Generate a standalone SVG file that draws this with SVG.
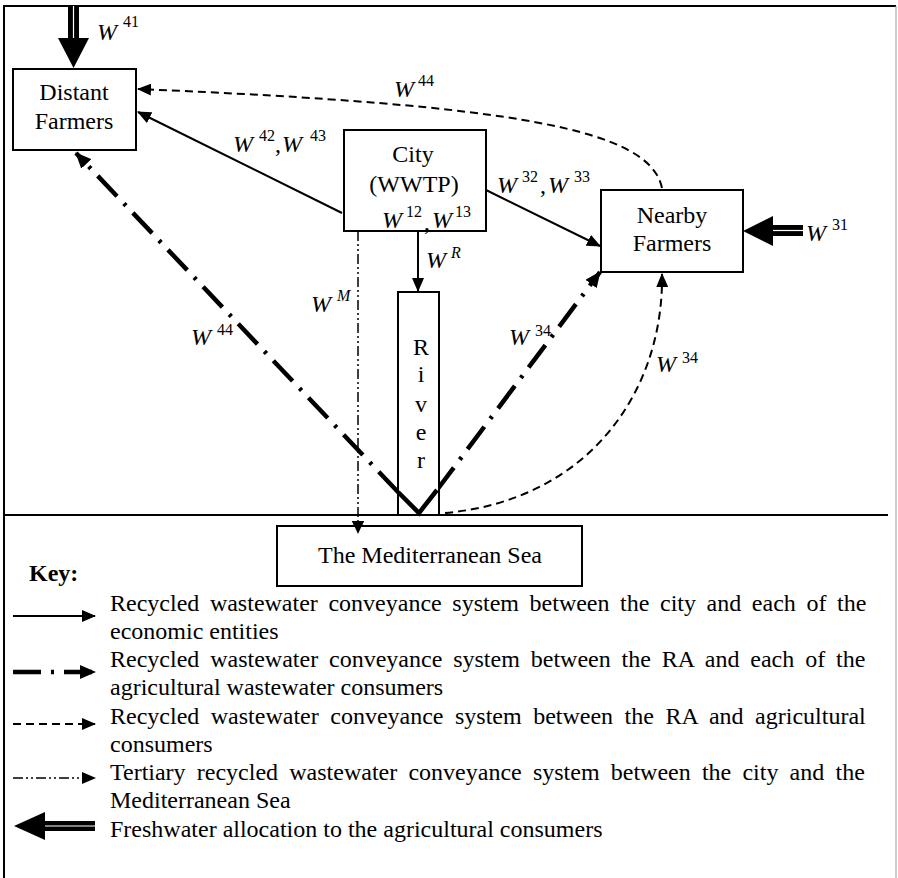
<svg xmlns="http://www.w3.org/2000/svg" width="898" height="878" viewBox="0 0 898 878">
<style>
text{font-family:"Liberation Serif","Times New Roman",serif;fill:#000}
.lbl{font-size:24px}
.mid{text-anchor:middle}
.w{font-size:24px;font-style:italic}
.sup{font-size:16px;font-style:normal}
.key{font-size:24px;font-weight:bold}
.box{fill:#fff;stroke:#000;stroke-width:2}
.solid{stroke:#000;stroke-width:2;fill:none}
.dashed{stroke:#000;stroke-width:2;fill:none;stroke-dasharray:8 5}
.dashdot{stroke:#000;stroke-width:4.5;fill:none;stroke-dasharray:28 10 3 10}
.ddd{stroke:#000;stroke-width:1.5;fill:none;stroke-dasharray:10 3 2 3 2 3}
.frame{stroke:#000;stroke-width:2;fill:none}
.fw{fill:#000}
.fwl{stroke:#fff;stroke-width:1.2}
</style>
<defs>
<marker id="ah" viewBox="0 0 14 12" refX="13" refY="6" markerWidth="14" markerHeight="12" markerUnits="userSpaceOnUse" orient="auto"><path d="M0,0 L14,6 L0,12 Z" fill="#000"/></marker>
<marker id="ahb" viewBox="0 0 16 14" refX="15" refY="7" markerWidth="16" markerHeight="14" markerUnits="userSpaceOnUse" orient="auto"><path d="M0,0 L16,7 L0,14 Z" fill="#000"/></marker>
</defs>

<!-- frame -->
<path class="frame" d="M4,878 L4,6 L896,6"/>
<path d="M896,6 L896,878" stroke="#999" stroke-width="1" fill="none"/>
<path class="frame" d="M4,515 L888,515"/>

<!-- connectors -->
<g id="connectors">
  <path class="dashed" d="M662,188 C650,130 520,105 138,89" marker-end="url(#ah)"/>
  <path class="solid" d="M342,213 L138,112" marker-end="url(#ah)"/>
  <path class="solid" d="M484,189 L600,246" marker-end="url(#ah)"/>
  <path class="solid" d="M418,231 L418,291" marker-end="url(#ah)"/>
  <path class="ddd" d="M358,231 L358,534" marker-end="url(#ah)"/>
  <path class="dashdot" d="M398,492 L76,153" marker-end="url(#ahb)"/>
  <path class="dashdot" d="M437,490 L600,272" marker-end="url(#ahb)"/>
  <path d="M398,492 L419,513 L437,490" stroke="#000" stroke-width="4.5" fill="none"/>
  <path class="dashed" d="M445,513 C590,500 664,390 662,274" marker-end="url(#ah)"/>
  <!-- freshwater W41 -->
  <g id="fw41">
    <rect class="fw" x="68" y="6" width="11" height="33"/>
    <line class="fwl" x1="73.5" y1="6" x2="73.5" y2="38"/>
    <polygon class="fw" points="58,38 89,38 73.5,68"/>
  </g>
  <!-- freshwater W31 -->
  <g id="fw31">
    <rect class="fw" x="772" y="225" width="31" height="11"/>
    <line class="fwl" x1="773" y1="230.5" x2="803" y2="230.5"/>
    <polygon class="fw" points="743,231 773,216 773,246"/>
  </g>
</g>

<!-- nodes -->
<g id="distant">
  <rect class="box" x="13" y="69" width="123" height="81"/>
  <text class="lbl mid" x="74" y="100">Distant</text>
  <text class="lbl mid" x="74" y="129">Farmers</text>
</g>
<g id="city">
  <rect class="box" x="344" y="130" width="142" height="101"/>
  <text class="lbl mid" x="413" y="162">City</text>
  <text class="lbl mid" x="414" y="192">(WWTP)</text>
  <text class="w" x="382" y="228">W<tspan class="sup" x="406" y="217">12</tspan><tspan x="424" y="230" style="font-style:normal">,</tspan><tspan x="432" y="228">W</tspan><tspan class="sup" x="455" y="217">13</tspan></text>
</g>
<g id="nearby">
  <rect class="box" x="601" y="190" width="142" height="82"/>
  <text class="lbl mid" x="672" y="223">Nearby</text>
  <text class="lbl mid" x="672" y="251">Farmers</text>
</g>
<g id="river">
  <rect class="box" x="398" y="292" width="41" height="223"/>
  <text class="lbl mid" x="421" y="355">R</text>
  <text class="lbl mid" x="421" y="382">i</text>
  <text class="lbl mid" x="421" y="412">v</text>
  <text class="lbl mid" x="421" y="440">e</text>
  <text class="lbl mid" x="421" y="468">r</text>
  <path d="M398,492 L419,513 L437,490" stroke="#000" stroke-width="4.5" fill="none"/>
</g>
<g id="sea">
  <rect class="box" x="277" y="526" width="305" height="60"/>
  <path d="M358,521 L352,521 L358,534 L364,521 Z" fill="#000"/>
  <text class="lbl mid" x="430" y="563">The Mediterranean Sea</text>
</g>

<!-- flow labels -->
<g id="labels">
  <text class="w" x="97" y="40">W<tspan class="sup" x="123" y="27">41</tspan></text>
  <text class="w" x="394" y="97">W<tspan class="sup" x="418" y="86">44</tspan></text>
  <text class="w" x="233" y="152">W<tspan class="sup" x="259" y="141">42</tspan><tspan x="275" y="152" style="font-style:normal">,</tspan><tspan x="282" y="152">W</tspan><tspan class="sup" x="310" y="141">43</tspan></text>
  <text class="w" x="497" y="193">W<tspan class="sup" x="522" y="182">32</tspan><tspan x="540" y="193" style="font-style:normal">,</tspan><tspan x="548" y="193">W</tspan><tspan class="sup" x="574" y="182">33</tspan></text>
  <text class="w" x="426" y="268">W<tspan class="sup" x="451" y="258" style="font-style:italic">R</tspan></text>
  <text class="w" x="311" y="312">W<tspan class="sup" x="337" y="301" style="font-style:italic">M</tspan></text>
  <text class="w" x="191" y="345">W<tspan class="sup" x="217" y="335">44</tspan></text>
  <text class="w" x="509" y="345">W<tspan class="sup" x="535" y="336">34</tspan></text>
  <text class="w" x="656" y="372">W<tspan class="sup" x="682" y="363">34</tspan></text>
  <text class="w" x="806" y="241">W<tspan class="sup" x="832" y="230">31</tspan></text>
</g>

<!-- legend -->
<g id="legend">
  <text class="key" x="29" y="581">Key:</text>
  <path class="solid" d="M13,616 L95,616" marker-end="url(#ah)"/>
  <text class="lbl" x="110" y="611" style="word-spacing:4.6px">Recycled wastewater conveyance system between the city and each of the</text>
  <text class="lbl" x="110" y="639">economic entities</text>
  <path class="dashdot" d="M13,672 L95,672" marker-end="url(#ahb)"/>
  <text class="lbl" x="110" y="667" style="word-spacing:4.9px">Recycled wastewater conveyance system between the RA and each of the</text>
  <text class="lbl" x="110" y="695">agricultural wastewater consumers</text>
  <path class="dashed" d="M13,724 L95,724" marker-end="url(#ah)"/>
  <text class="lbl" x="110" y="724" style="word-spacing:5.5px">Recycled wastewater conveyance system between the RA and agricultural</text>
  <text class="lbl" x="110" y="752">consumers</text>
  <path class="ddd" d="M13,778 L95,778" marker-end="url(#ah)"/>
  <text class="lbl" x="110" y="780" style="word-spacing:5.2px">Tertiary recycled wastewater conveyance system between the city and the</text>
  <text class="lbl" x="110" y="808">Mediterranean Sea</text>
  <g id="fwkey">
    <rect class="fw" x="44" y="821" width="51" height="10"/>
    <line class="fwl" x1="45" y1="826" x2="95" y2="826"/>
    <polygon class="fw" points="14,826 45,812 45,840"/>
  </g>
  <text class="lbl" x="110" y="837">Freshwater allocation to the agricultural consumers</text>
</g>
</svg>
